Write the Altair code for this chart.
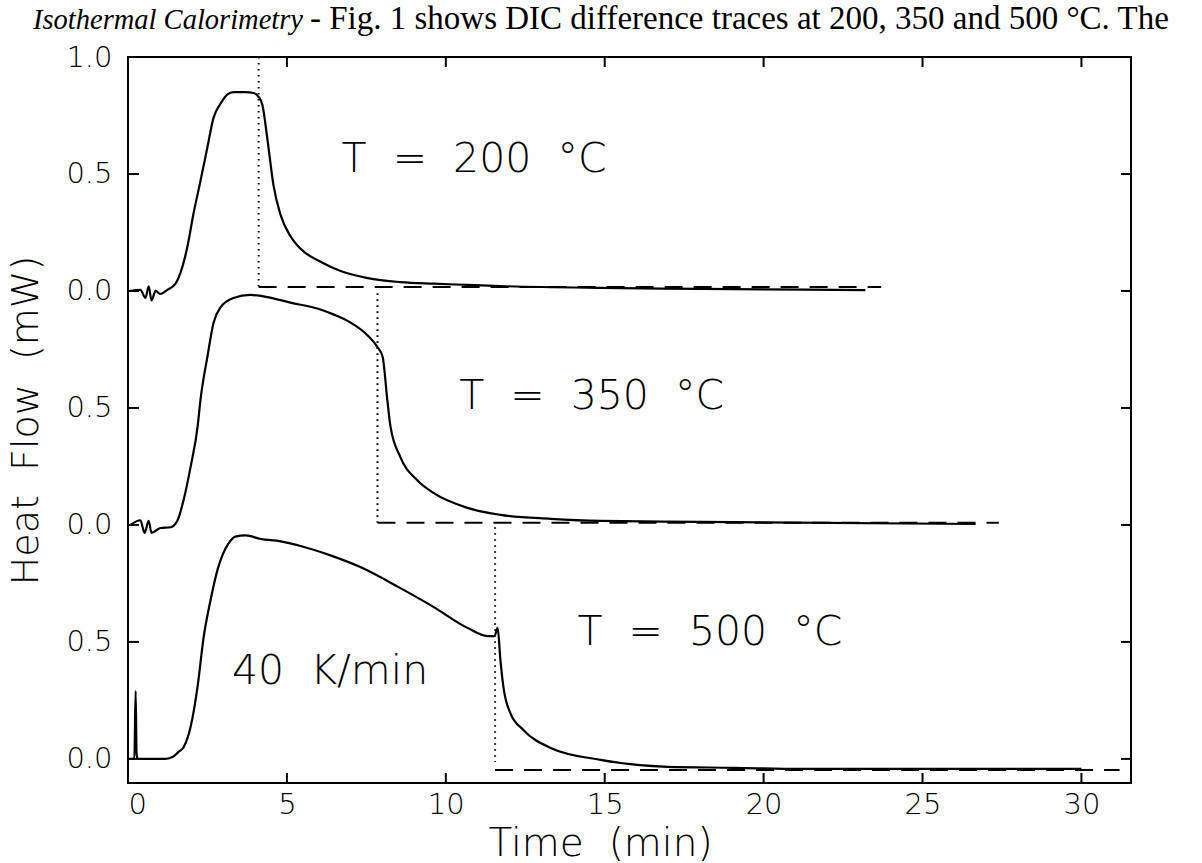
import altair as alt
import pandas as pd

# ---- data ----
# T = 200 °C trace (time in min, heat flow in mW)
time_200 = [0.05, 0.39, 0.55, 0.65, 0.74, 0.87, 1.02, 1.24, 1.49, 1.65, 1.87, 2.06, 2.28, 2.50,
            2.69, 2.91, 3.13, 3.32, 3.70, 3.95, 4.11, 4.23, 4.39, 4.58, 4.80, 5.11, 5.43, 6.06,
            6.69, 7.54, 8.57, 9.61, 10.68, 11.72, 14.87, 18.01, 23.20]
hf_200 = [0.0, 0.005, -0.03, 0.02, -0.04, 0.0, -0.013, 0.005, 0.03, 0.077, 0.19, 0.33, 0.47, 0.615,
          0.74, 0.80, 0.84, 0.85, 0.85, 0.846, 0.83, 0.795, 0.645, 0.45, 0.325, 0.235, 0.18, 0.125,
          0.085, 0.055, 0.038, 0.031, 0.026, 0.021, 0.013, 0.009, 0.004]

# T = 350 °C trace
time_350 = [0.08, 0.39, 0.52, 0.65, 0.74, 1.02, 1.34, 1.56, 1.75, 1.97, 2.19, 2.28, 2.50, 2.69,
            2.91, 3.32, 3.85, 4.39, 5.11, 5.96, 6.46, 7.00, 7.54, 7.85, 8.01, 8.16, 8.26,
            8.57, 9.11, 9.61, 10.68, 11.72, 13.30, 14.87, 18.01, 26.67]
hf_350 = [0.0, 0.02, -0.034, 0.017, -0.034, -0.013, -0.01, 0.02, 0.107, 0.248, 0.42, 0.534, 0.72,
          0.863, 0.93, 0.97, 0.983, 0.974, 0.95, 0.925, 0.90, 0.865, 0.81, 0.76, 0.72, 0.534,
          0.42, 0.29, 0.19, 0.137, 0.073, 0.043, 0.026, 0.017, 0.013, 0.004]

# T = 500 °C trace
time_500 = [0.0, 0.20, 0.24, 0.27, 0.30, 0.71, 1.18, 1.43, 1.59, 1.75, 1.97, 2.19, 2.38, 2.60,
            2.82, 2.97, 3.16, 3.38, 3.70, 4.17, 4.80, 5.43, 6.37, 7.31, 8.57, 9.61, 10.68, 11.31,
            11.53, 11.63, 11.72, 11.81, 12.03, 12.44, 13.30, 14.87, 16.98, 19.05, 21.16, 27.45, 30.0]
hf_500 = [0.0, 0.0, 0.29, 0.02, 0.0, 0.0, 0.0, 0.01, 0.03, 0.05, 0.137, 0.31, 0.52, 0.68,
          0.81, 0.87, 0.92, 0.95, 0.955, 0.94, 0.93, 0.91, 0.87, 0.82, 0.73, 0.65, 0.56, 0.525,
          0.525, 0.56, 0.42, 0.31, 0.196, 0.124, 0.047, -0.004, -0.034, -0.038, -0.043, -0.043, -0.043]

traces = ["200", "350", "500"]
offsets = [2.0, 1.0, 0.0]          # vertical stacking offset of each trace

# end of heating (dotted line) and isothermal baseline (dashed line)
switch_time = [4.11, 7.85, 11.55]
dotted_top = [1.0, 0.99, 0.99]
dotted_bottom = [0.017, 0.009, -0.013]
dashed_level = [0.017, 0.009, -0.047]
dashed_end = [23.7, 27.4, 31.2]

# annotations
ann_text = ["T\u00a0 =\u00a0 200\u00a0 °C", "T\u00a0 =\u00a0 350\u00a0 °C",
            "T\u00a0 =\u00a0 500\u00a0 °C", "40\u00a0 K/min"]
ann_time = [6.72, 10.42, 14.14, 3.27]
ann_level = [2.56, 1.545, 0.54, 0.37]

x_ticks = [0, 5, 10, 15, 20, 25, 30]
y_ticks = [0.0, 0.5, 1.0, 1.5, 2.0, 2.5, 3.0]

# ---- build tables ----
rows = []
for name, off, ts, vs in zip(traces, offsets, [time_200, time_350, time_500], [hf_200, hf_350, hf_500]):
    for t, v in zip(ts, vs):
        rows.append({"trace": name, "t": t, "hf": v, "off": off})
df = pd.DataFrame(rows)

ref = pd.DataFrame({"trace": traces, "off": offsets, "ts": switch_time,
                    "dtop": dotted_top, "dbot": dotted_bottom,
                    "lvl": dashed_level, "tend": dashed_end})
ann = pd.DataFrame({"txt": ann_text, "t": ann_time, "y": ann_level})

W, H = 1003, 726
FONT = "DejaVu Sans"

xscale = alt.Scale(domain=[0, 31.56], nice=False, zero=False)
yscale = alt.Scale(domain=[-0.103, 3.0], nice=False, zero=False)

label_expr = ("datum.value > 2.99 ? '1.0' : "
              "(abs(datum.value - round(datum.value)) < 0.01 ? '0.0' : '0.5')")

xaxis = alt.Axis(values=x_ticks, ticks=False, domain=False, grid=False, labelFont=FONT,
                 labelFontSize=29, labelPadding=7, labelColor="black",
                 labelFontWeight=200,
                 title="Time\u00a0 (min)", titleFont=FONT, titleFontSize=39,
                 titleFontWeight=200, titleColor="black",
                 titleX=472, titleY=72, titleAnchor="start", titleAlign="center",
                 titleBaseline="alphabetic")
yaxis = alt.Axis(values=y_ticks, labelExpr=label_expr, ticks=False, domain=False, grid=False,
                 labelFont=FONT, labelFontSize=29, labelPadding=16, labelColor="black",
                 labelFontWeight=200,
                 title="Heat\u00a0 Flow\u00a0 (mW)", titleFont=FONT, titleFontSize=38,
                 titleFontWeight=200, titleColor="black", titlePadding=20)

lines = alt.Chart(df).transform_calculate(y="datum.hf + datum.off").mark_line(
    color="black", strokeWidth=2.2, interpolate="monotone"
).encode(
    x=alt.X("t:Q", scale=xscale, axis=xaxis),
    y=alt.Y("y:Q", scale=yscale, axis=yaxis),
    detail="trace:N",
    order="t:Q",
)

dotted = alt.Chart(ref).transform_calculate(
    y1="datum.dtop + datum.off", y2="datum.dbot + datum.off"
).mark_rule(color="black", strokeWidth=2, strokeDash=[1.6, 4.4]).encode(
    x="ts:Q", y="y1:Q", y2="y2:Q"
)

dashed = alt.Chart(ref).transform_calculate(
    yl="datum.lvl + datum.off"
).mark_rule(color="black", strokeWidth=2, strokeDash=[18, 11]).encode(
    x="ts:Q", x2="tend:Q", y="yl:Q"
)

labels = alt.Chart(ann).mark_text(
    align="left", baseline="middle", font=FONT, fontSize=41, fontWeight=200, color="black"
).encode(x="t:Q", y="y:Q", text="txt:N")

# inward ticks on all four sides
xt = pd.DataFrame({"v": x_ticks[1:]})
yt = pd.DataFrame({"v": y_ticks})
tick_style = dict(color="black", strokeWidth=2)
ticks_bottom = alt.Chart(xt).mark_rule(**tick_style).encode(
    x="v:Q", y=alt.value(H), y2=alt.value(H - 10))
ticks_top = alt.Chart(xt).mark_rule(**tick_style).encode(
    x="v:Q", y=alt.value(0), y2=alt.value(10))
ticks_left = alt.Chart(yt).mark_rule(**tick_style).encode(
    y="v:Q", x=alt.value(0), x2=alt.value(11))
ticks_right = alt.Chart(yt).mark_rule(**tick_style).encode(
    y="v:Q", x=alt.value(W - 10), x2=alt.value(W))

# running text line above the figure (part of the scanned page)
head_it = alt.Chart(pd.DataFrame({"s": ["Isothermal Calorimetry"]})).mark_text(
    align="left", baseline="alphabetic", font="Liberation Serif", fontSize=28.5,
    fontStyle="italic", color="black"
).encode(text="s:N", x=alt.value(-95), y=alt.value(-28))
head_rest = alt.Chart(pd.DataFrame({"s": ["- Fig. 1 shows DIC difference traces at 200, 350 and 500 °C. The"]})).mark_text(
    align="left", baseline="alphabetic", font="Liberation Serif", fontSize=33, color="black"
).encode(text="s:N", x=alt.value(182), y=alt.value(-28))

chart = alt.layer(
    lines, dotted, dashed, labels,
    ticks_bottom, ticks_top, ticks_left, ticks_right,
    head_it, head_rest,
).properties(
    width=W, height=H,
    autosize=alt.AutoSizeParams(type="none"),
    padding={"left": 128, "top": 57, "right": 71, "bottom": 80},
    background="white",
).configure_view(stroke="black", strokeWidth=2)

chart.save("out.html", embed_options={"renderer": "svg", "actions": False})
